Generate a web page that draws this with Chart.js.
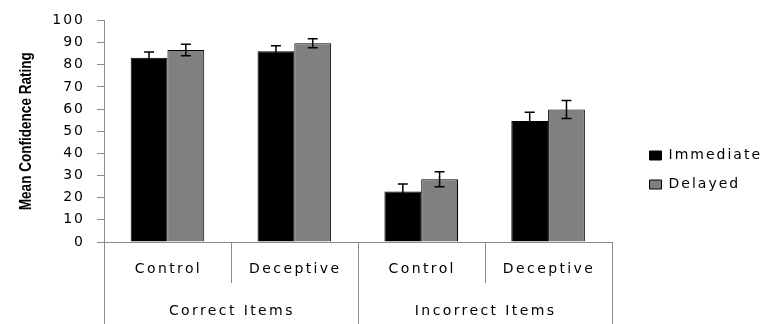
<!DOCTYPE html>
<html>
<head>
<meta charset="utf-8">
<script src="https://cdn.jsdelivr.net/npm/chart.js@4.4.1/dist/chart.umd.min.js"></script>
<style>
  html, body { margin: 0; padding: 0; background: #fff; }
  #wrap { width: 766px; height: 324px; }
</style>
</head>
<body>
<div id="wrap"><canvas id="c" width="766" height="324"></canvas></div>
<script>
// Item types (outer axis level) and test conditions (inner axis level)
const itemTypes = ['Correct Items', 'Incorrect Items'];
const conditions = ['Control', 'Deceptive', 'Control', 'Deceptive'];
const seriesNames = ['Immediate', 'Delayed'];

// Mean confidence ratings and their error-bar half widths
const immediate    = [83.2, 86.1, 22.8, 54.6];
const immediateErr = [2.5, 2.5, 3.4, 4.0];
const delayed      = [86.6, 89.7, 28.3, 59.8];
const delayedErr   = [2.6, 2.0, 3.4, 4.1];

// Value axis
const yMin = 0, yMax = 100, yStep = 10;
const yTitle = 'Mean Confidence Rating';

const AXIS_GRAY = '#8c8c8c';
const TEXT_FONT = "'DejaVu Sans', sans-serif";

// Wide-tracked text everywhere on the canvas
const tracking = {
  id: 'tracking',
  beforeLayout(chart) { chart.ctx.letterSpacing = '2px'; },
  beforeDraw(chart) { chart.ctx.letterSpacing = '2px'; }
};

// Legend sits a little lower and further right than the default slot
const legendPlacement = {
  id: 'legendPlacement',
  afterLayout(chart) {
    const lg = chart.legend;
    if (!lg) return;
    lg.left += 23; lg.right += 23;
    lg.top += 39; lg.bottom += 39;
  }
};

// Narrow bold y-axis title, squeezed to a fixed length
const yAxisTitle = {
  id: 'yAxisTitle',
  afterDraw(chart) {
    const { ctx, chartArea } = chart;
    ctx.save();
    ctx.letterSpacing = '0px';
    ctx.font = "bold 17px 'Liberation Sans', Arial, sans-serif";
    ctx.fillStyle = '#000';
    ctx.textAlign = 'center';
    ctx.textBaseline = 'middle';
    const w = ctx.measureText(yTitle).width;
    ctx.translate(26, (chartArea.top + chartArea.bottom) / 2);
    ctx.rotate(-Math.PI / 2);
    ctx.scale(158 / w, 1);
    ctx.fillText(yTitle, 0, 0);
    ctx.restore();
  }
};

// Error bars computed from each bar's value +/- its error
const errorBars = {
  id: 'errorBars',
  afterDatasetsDraw(chart) {
    const { ctx, scales: { y } } = chart;
    const errs = [immediateErr, delayedErr];
    ctx.save();
    ctx.strokeStyle = '#000';
    ctx.lineWidth = 1.5;
    chart.data.datasets.forEach((ds, di) => {
      const meta = chart.getDatasetMeta(di);
      meta.data.forEach((bar, i) => {
        const v = ds.data[i], e = errs[di][i];
        const top = y.getPixelForValue(v + e);
        const bot = y.getPixelForValue(v - e);
        const x = bar.x, cap = 5;
        ctx.beginPath();
        ctx.moveTo(x, top); ctx.lineTo(x, bot);
        ctx.moveTo(x - cap, top); ctx.lineTo(x + cap, top);
        ctx.moveTo(x - cap, bot); ctx.lineTo(x + cap, bot);
        ctx.stroke();
      });
    });
    ctx.restore();
  }
};

// Two-level category axis: condition labels above item-type labels, with dividers
const groupedAxis = {
  id: 'groupedAxis',
  afterDraw(chart) {
    const { ctx, scales: { x }, chartArea } = chart;
    const n = conditions.length;
    const step = (x.right - x.left) / n;
    const base = chartArea.bottom;
    const full = chart.height;
    ctx.save();
    ctx.strokeStyle = AXIS_GRAY;
    ctx.lineWidth = 1;
    for (let i = 0; i <= n; i++) {
      const bx = Math.round(x.left + i * step) + 0.5;
      const end = (i % 2 === 0) ? full : base + 41;
      ctx.beginPath();
      ctx.moveTo(bx, base);
      ctx.lineTo(bx, end);
      ctx.stroke();
    }
    ctx.letterSpacing = '2.4px';
    ctx.fillStyle = '#000';
    ctx.font = '14px ' + TEXT_FONT;
    ctx.textAlign = 'center';
    ctx.textBaseline = 'middle';
    conditions.forEach((c, i) => {
      ctx.fillText(c, x.getPixelForValue(i) + 1, base + 27);
    });
    itemTypes.forEach((t, g) => {
      const cx = (x.getPixelForValue(g * 2) + x.getPixelForValue(g * 2 + 1)) / 2;
      ctx.fillText(t, cx + 1, base + 69);
    });
    ctx.restore();
  }
};

new Chart(document.getElementById('c'), {
  type: 'bar',
  data: {
    labels: conditions,
    datasets: [
      { label: seriesNames[0], data: immediate, backgroundColor: '#000000', borderColor: '#000000', borderWidth: 1 },
      { label: seriesNames[1], data: delayed, backgroundColor: '#808080', borderColor: '#000000', borderWidth: 1 }
    ]
  },
  options: {
    responsive: false,
    animation: false,
    devicePixelRatio: 1,
    layout: { padding: { top: 12, bottom: 74, left: 0, right: 17 } },
    datasets: { bar: { categoryPercentage: 0.58, barPercentage: 1.0 } },
    plugins: {
      tooltip: { enabled: false },
      legend: {
        position: 'right',
        labels: {
          color: '#000',
          font: { family: TEXT_FONT, size: 14 },
          boxWidth: 12,
          boxHeight: 9,
          padding: 15
        }
      }
    },
    scales: {
      x: {
        grid: { display: false },
        border: { display: true, color: AXIS_GRAY, width: 1 },
        ticks: { display: false }
      },
      y: {
        min: yMin,
        max: yMax,
        ticks: {
          stepSize: yStep,
          color: '#000',
          font: { family: TEXT_FONT, size: 14 },
          padding: 12
        },
        grid: { display: true, drawOnChartArea: false, drawTicks: true, tickLength: 7, color: AXIS_GRAY },
        border: { display: true, color: AXIS_GRAY, width: 1 },
        afterFit(scale) { scale.width = 104; }
      }
    }
  },
  plugins: [tracking, legendPlacement, yAxisTitle, errorBars, groupedAxis]
});
</script>
</body>
</html>
